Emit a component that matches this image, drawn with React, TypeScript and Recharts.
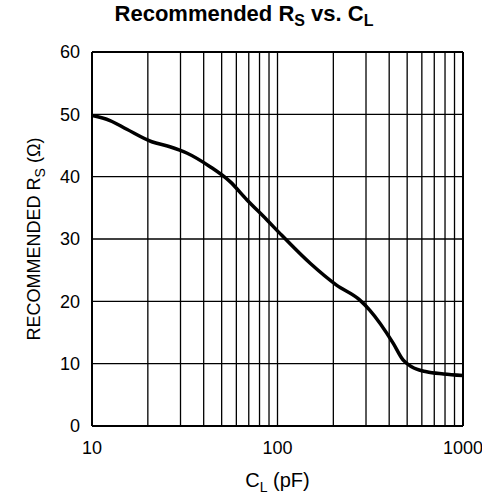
import React from "react";
import {
  LineChart,
  Line,
  XAxis,
  YAxis,
  ReferenceLine,
  Label,
} from "recharts";

// curve
const capPF = [10, 12.5, 15.4, 21, 26.3, 32.4, 43.3, 55.5, 68.3, 87.5, 103, 150, 208, 278, 314, 420, 475, 528, 636, 785, 1000];
const rsOhm = [49.8, 49.0, 47.6, 45.6, 44.8, 43.8, 41.6, 39.2, 36.3, 33.1, 30.9, 26.1, 22.6, 20.2, 18.6, 13.3, 10.6, 9.5, 8.7, 8.35, 8.1];

const xTicks = [10, 100, 1000];
const yTicks = [0, 10, 20, 30, 40, 50, 60];
const xGrid = [20, 30, 40, 50, 60, 70, 80, 90, 100, 200, 300, 400, 500, 600, 700, 800, 900];
const yGrid = [10, 20, 30, 40, 50];

const data = capPF.map((c, i) => ({ c, rs: rsOhm[i] }));

const font = '"Liberation Sans", Arial, Helvetica, sans-serif';

function XTitle({ viewBox }: any) {
  const cx = viewBox.x + viewBox.width / 2;
  return (
    <text x={cx} y={viewBox.y + 61} textAnchor="middle" fontSize={20} fontFamily={font} fill="#000">
      C<tspan dy={5} fontSize={14}>L</tspan>
      <tspan dy={-5}> (pF)</tspan>
    </text>
  );
}

function YTitle({ viewBox }: any) {
  const cy = viewBox.y + viewBox.height / 2;
  const x = 40;
  return (
    <text
      x={x}
      y={cy}
      transform={`rotate(-90 ${x} ${cy})`}
      textAnchor="middle"
      fontSize={18}
      fontFamily={font}
      fill="#000"
    >
      RECOMMENDED R<tspan dy={5} fontSize={14}>S</tspan>
      <tspan dy={-5}> (Ω)</tspan>
    </text>
  );
}

export default function App() {
  return (
    <div style={{ position: "absolute", left: 0, top: 0, width: 482, height: 502, background: "#fff" }}>
      <svg width={482} height={32} style={{ position: "absolute", left: 0, top: 0 }}>
        <text x={244} y={21} textAnchor="middle" fontSize={22} fontWeight="bold" fontFamily={font} fill="#000">
          Recommended R<tspan dy={5} fontSize={16}>S</tspan>
          <tspan dy={-5}> vs. C</tspan>
          <tspan dy={5} fontSize={16}>L</tspan>
        </text>
      </svg>
      <LineChart
        width={482}
        height={502}
        data={data}
        margin={{ top: 52, right: 19, bottom: 0, left: 0 }}
        style={{ position: "absolute", left: 0, top: 0 }}
      >
        {xGrid.map((v) => (
          <ReferenceLine key={"x" + v} x={v} stroke="#000" strokeWidth={1.3} />
        ))}
        {yGrid.map((v) => (
          <ReferenceLine key={"y" + v} y={v} stroke="#000" strokeWidth={1.3} />
        ))}
        <ReferenceLine x={1000} stroke="#000" strokeWidth={2} />
        <ReferenceLine y={60} stroke="#000" strokeWidth={2} />
        <XAxis
          dataKey="c"
          type="number"
          scale="log"
          domain={[10, 1000]}
          ticks={xTicks}
          allowDataOverflow
          tickLine={false}
          tickSize={0}
          axisLine={{ stroke: "#000", strokeWidth: 2 }}
          tick={{ fill: "#000", fontSize: 18, fontFamily: font }}
          tickMargin={15}
          height={76}
        >
          <Label content={<XTitle />} />
        </XAxis>
        <YAxis
          type="number"
          domain={[0, 60]}
          ticks={yTicks}
          tickLine={false}
          tickSize={0}
          axisLine={{ stroke: "#000", strokeWidth: 2 }}
          tick={{ fill: "#000", fontSize: 18, fontFamily: font }}
          tickMargin={12}
          width={92}
        >
          <Label content={<YTitle />} />
        </YAxis>
        <Line
          dataKey="rs"
          type="monotone"
          stroke="#000"
          strokeWidth={3.5}
          dot={false}
          isAnimationActive={false}
        />
      </LineChart>
    </div>
  );
}
